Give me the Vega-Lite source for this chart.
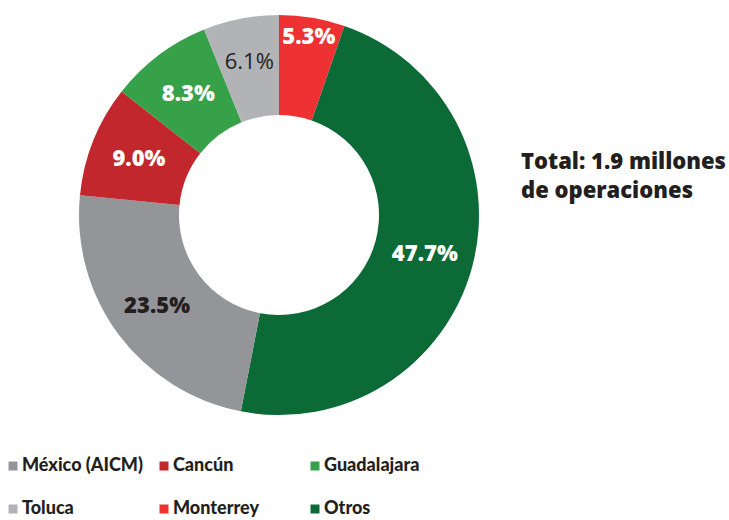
{
  "$schema": "https://vega.github.io/schema/vega-lite/v6.json",
  "width": 558,
  "height": 430,
  "autosize": {"type": "none"},
  "padding": {"left": 0, "top": 0, "right": 171, "bottom": 90},
  "background": "white",
  "config": {"view": {"stroke": null}},
  "title": {
    "text": ["Total: 1.9 millones", "de operaciones"],
    "orient": "top",
    "anchor": "start",
    "frame": "group",
    "baseline": "top",
    "offset": 0,
    "dx": 521,
    "dy": 203,
    "font": "Open Sans",
    "fontWeight": 800,
    "fontSize": 22,
    "lineHeight": 29,
    "color": "#231f20"
  },
  "data": {
    "values": [
      {"aeropuerto": "Monterrey", "pct": 5.3, "orden": 1, "label": "5.3%"},
      {"aeropuerto": "Otros", "pct": 47.7, "orden": 2, "label": "47.7%"},
      {"aeropuerto": "México (AICM)", "pct": 23.5, "orden": 3, "label": "23.5%"},
      {"aeropuerto": "Cancún", "pct": 9.0, "orden": 4, "label": "9.0%"},
      {"aeropuerto": "Guadalajara", "pct": 8.3, "orden": 5, "label": "8.3%"},
      {"aeropuerto": "Toluca", "pct": 6.1, "orden": 6, "label": "6.1%"}
    ]
  },
  "encoding": {
    "theta": {"field": "pct", "type": "quantitative", "stack": true},
    "order": {"field": "orden", "type": "quantitative"}
  },
  "layer": [
    {
      "mark": {"type": "arc", "innerRadius": 100, "outerRadius": 200},
      "encoding": {
        "color": {
          "field": "aeropuerto",
          "type": "nominal",
          "scale": {
            "domain": ["México (AICM)", "Cancún", "Guadalajara", "Toluca", "Monterrey", "Otros"],
            "range": ["#939598", "#C1272D", "#37A149", "#B2B3B6", "#EE3233", "#0C6A37"]
          },
          "legend": {
            "title": null,
            "orient": "none",
            "legendX": 4,
            "legendY": 457,
            "direction": "horizontal",
            "columns": 3,
            "gridAlign": "all",
            "columnPadding": 12,
            "rowPadding": 25,
            "symbolType": "square",
            "symbolSize": 81,
            "symbolStrokeWidth": 0,
            "symbolOffset": 0,
            "labelFont": "Lato",
            "labelFontWeight": 900,
            "labelFontSize": 18,
            "labelColor": "#231f20",
            "labelOffset": 0,
            "labelLimit": 300
          }
        }
      }
    },
    {
      "mark": {"type": "text", "radius": 151, "font": "Open Sans", "fontWeight": 800, "fontSize": 22, "color": "white"},
      "encoding": {
        "text": {"condition": {"test": "indexof(['Otros','Cancún','Guadalajara'], datum.aeropuerto) >= 0", "field": "label"}, "value": ""}
      }
    },
    {
      "mark": {"type": "text", "radius": 180, "font": "Open Sans", "fontWeight": 800, "fontSize": 22, "color": "white"},
      "encoding": {
        "text": {"condition": {"test": "datum.aeropuerto == 'Monterrey'", "field": "label"}, "value": ""}
      }
    },
    {
      "mark": {"type": "text", "radius": 152, "font": "Open Sans", "fontWeight": 800, "fontSize": 22, "color": "#231f20"},
      "encoding": {
        "text": {"condition": {"test": "datum.aeropuerto == 'México (AICM)'", "field": "label"}, "value": ""}
      }
    },
    {
      "mark": {"type": "text", "radius": 156, "font": "Open Sans", "fontWeight": "normal", "fontSize": 22, "color": "#231f20"},
      "encoding": {
        "text": {"condition": {"test": "datum.aeropuerto == 'Toluca'", "field": "label"}, "value": ""}
      }
    }
  ]
}
